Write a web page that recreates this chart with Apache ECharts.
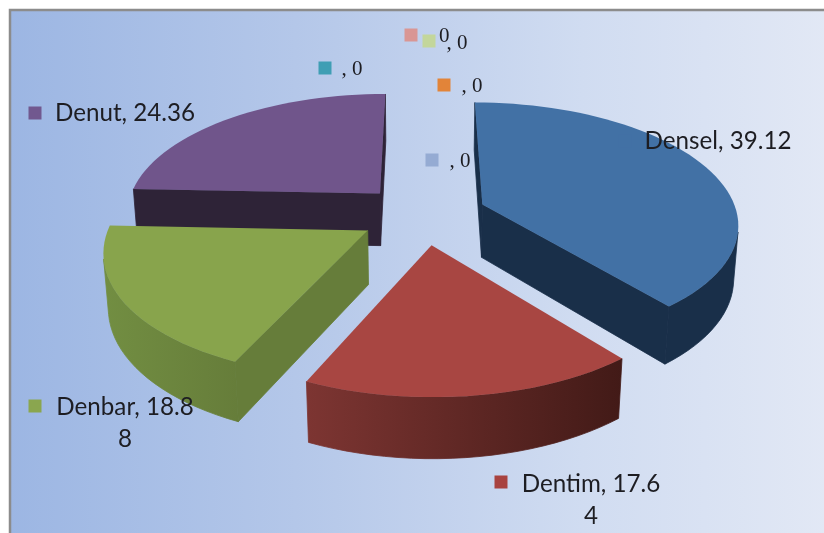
<!DOCTYPE html>
<html>
<head>
<meta charset="utf-8">
<style>html,body{margin:0;padding:0;background:#fff}#chart{width:824px;height:533px}</style>
<script src="https://cdn.jsdelivr.net/npm/echarts@6/dist/echarts.min.js"></script>
</head>
<body>
<div id="chart"></div>
<script>
// Series of the exploded pie, in drawing order starting at twelve o'clock.
const sliceNames = ['Densel', 'Dentim', 'Denbar', 'Denut'];
const sliceValues = [39.12, 17.64, 18.88, 24.36];
// Categories with no share: they only appear as labels.
const emptyNames = ['', '', '', '', ''];
const emptyValues = [0, 0, 0, 0, 0];

// Palette per slice: top face, flat side wall, rim gradient (left, right).
const topColors = ['#4271a5', '#a84642', '#88a44c', '#70558b'];
const wallColors = ['#192f49', '#4a1d1a', '#667d3a', '#2e2337'];
const rimLeft = ['#192f49', '#7d3532', '#728e42', '#2e2337'];
const rimRight = ['#192f49', '#421a17', '#667d3a', '#2e2337'];
const markerColors = ['#4271a5', '#a8423f', '#8aa64f', '#71588f',
  '#3f9eb4', '#e28439', '#95abd3', '#d99694', '#c3d69b'];

// Label placement: marker centre, text anchor, wrap column.
const labelMarkers = [[625, 141], [501, 482], [35, 406], [35, 113],
  [325, 68], [444, 85], [432, 160], [411, 35], [429, 41]];
const labelTexts = [[718, 141], [591, 500], [125, 423], [125, 113],
  [352, 69], [472, 86], [460, 161], [439, 36], [457, 43]];
const labelWrap = [0, 12, 12, 0, 0, 0, 0, 0, 0];
const pieCenter = [423, 214.5];
const pieScale = { a: 255, b: 119.7, p: 0.146, h: 54, q: 0.015 };
const explode = 0.25;
const SEG = 72;

const total = sliceValues.reduce((s, v) => s + v, 0);

// Perspective projection of a point on the unit disc; z=0 top face, z=1 base.
function project(u, v, z) {
  const w = 1 - pieScale.p * v + pieScale.q * z;
  return [pieCenter[0] + pieScale.a * u / w,
          pieCenter[1] + (pieScale.b * v + pieScale.h * z) / w];
}
function signedArea(pts) {
  let s = 0;
  for (let i = 0; i < pts.length; i++) {
    const a = pts[i], b = pts[(i + 1) % pts.length];
    s += a[0] * b[1] - b[0] * a[1];
  }
  return s / 2;
}

function sliceGeometry(index) {
  let start = 0;
  for (let i = 0; i < index; i++) start += sliceValues[i] / total * Math.PI * 2;
  const end = start + sliceValues[index] / total * Math.PI * 2;
  const mid = (start + end) / 2;
  const cu = explode * Math.sin(mid), cv = -explode * Math.cos(mid);
  const n = Math.max(8, Math.round(SEG * (end - start) / (Math.PI * 2) * 2));
  const arc = [];
  for (let i = 0; i <= n; i++) {
    const t = start + (end - start) * i / n;
    arc.push([cu + Math.sin(t), cv - Math.cos(t)]);
  }
  return { cu, cv, arc };
}

// Builds one slice: visible side walls and rim first, then the top face.
function renderSlice(params, api) {
  const idx = api.value(0);
  const { cu, cv, arc } = sliceGeometry(idx);
  const children = [];
  const wall = (p, q) => [project(p[0], p[1], 0), project(q[0], q[1], 0),
                          project(q[0], q[1], 1), project(p[0], p[1], 1)];
  const apex = [cu, cv];
  // Rim: keep arc segments facing forward and merge them into one polygon.
  const upper = [], lower = [];
  for (let i = 0; i < arc.length - 1; i++) {
    const q = wall(arc[i], arc[i + 1]);
    if (signedArea(q) < 0) {
      if (!upper.length) { upper.push(q[0]); lower.push(q[3]); }
      upper.push(q[1]); lower.push(q[2]);
    }
  }
  if (upper.length) {
    const pts = upper.concat(lower.reverse());
    const fill = new echarts.graphic.LinearGradient(0, 0, 1, 0, [
      { offset: 0, color: rimLeft[idx] }, { offset: 1, color: rimRight[idx] }]);
    children.push({ type: 'polygon', shape: { points: pts },
      style: { fill, stroke: fill, lineWidth: 0.8 } });
  }
  // Side walls facing the viewer (screen winding decides visibility).
  [wall(apex, arc[0]), wall(arc[arc.length - 1], apex)].forEach(q => {
    if (signedArea(q) < 0) {
      children.push({ type: 'polygon', shape: { points: q },
        style: { fill: wallColors[idx], stroke: wallColors[idx], lineWidth: 0.8 } });
    }
  });
  // Top face.
  const top = [project(cu, cv, 0)].concat(arc.map(p => project(p[0], p[1], 0)));
  children.push({ type: 'polygon', shape: { points: top },
    style: { fill: topColors[idx] } });
  return { type: 'group', children };
}

// Labels read "name, value"; the empty categories show only ", 0".
function renderLabel(params, api) {
  const i = api.value(0);
  const allNames = sliceNames.concat(emptyNames);
  const allValues = sliceValues.concat(emptyValues);
  let str = allNames[i] + ', ' + allValues[i];
  if (labelWrap[i]) str = str.slice(0, labelWrap[i]) + '\n' + str.slice(labelWrap[i]);
  const m = labelMarkers[i], t = labelTexts[i];
  const isEmpty = allValues[i] === 0;
  return { type: 'group', children: [
    { type: 'text', z2: 1, style: {
        x: t[0], y: t[1], text: str, align: 'center', verticalAlign: 'middle',
        fill: '#1d1d22', lineHeight: 32,
        font: isEmpty ? '21px "Liberation Serif"' : '24.2px Lato' } },
    { type: 'rect', z2: 2, shape: { x: m[0] - 6.5, y: m[1] - 6.5, width: 13, height: 13 },
      style: { fill: markerColors[i] } }
  ] };
}

// Slices are painted back to front so nearer walls cover farther ones.
const paintOrder = [3, 0, 2, 1];
const labelOrder = [0, 1, 2, 3, 4, 5, 6, 7, 8];

const chart = echarts.init(document.getElementById('chart'), null, { renderer: 'canvas' });
chart.setOption({
  animation: false,
  backgroundColor: '#ffffff',
  graphic: [{
    type: 'rect', z: 0, silent: true,
    shape: { x: 10, y: 10, width: 816, height: 525 },
    style: {
      fill: new echarts.graphic.LinearGradient(0, 0, 1, 0, [
        { offset: 0, color: '#9cb6e3' },
        { offset: 0.35, color: '#b4c7e9' },
        { offset: 0.7, color: '#d0dcf1' },
        { offset: 1, color: '#e2e8f5' }]),
      stroke: '#8c8c8c', lineWidth: 2.5
    }
  }],
  series: [
    { type: 'custom', coordinateSystem: 'none', z: 2, silent: true,
      renderItem: renderSlice, data: paintOrder.map(i => [i, sliceValues[i]]),
      encode: { value: [1] } },
    { type: 'custom', coordinateSystem: 'none', z: 3, silent: true,
      renderItem: renderLabel, data: labelOrder.map(i => [i]) }
  ]
});
</script>
</body>
</html>
